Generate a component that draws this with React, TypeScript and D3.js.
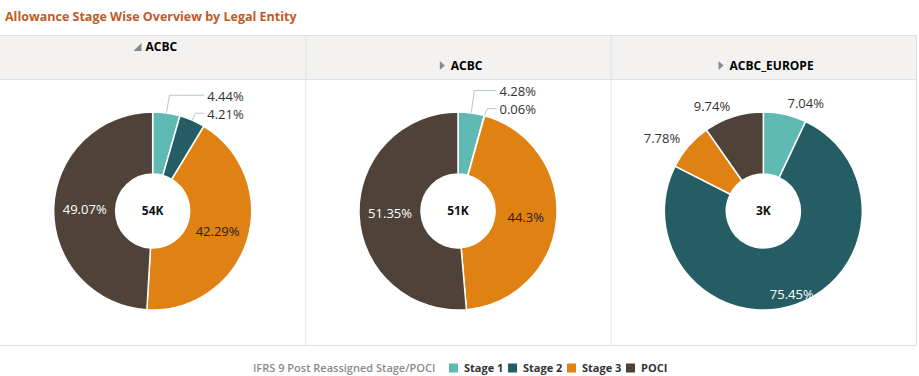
import React from "react";
import * as d3 from "d3";

const title = "Allowance Stage Wise Overview by Legal Entity";
const entities = ["ACBC", "ACBC", "ACBC_EUROPE"];
const expanded = [true, false, false];
const totals = ["54K", "51K", "3K"];
const stages = ["Stage 1", "Stage 2", "Stage 3", "POCI"];
const stage1 = [4.44, 4.28, 7.04];
const stage2 = [4.21, 0.06, 75.45];
const stage3 = [42.29, 44.3, 7.78];
const poci = [49.07, 51.35, 9.74];
const legendTitle = "IFRS 9 Post Reassigned Stage/POCI";

const colors = ["#5fbab4", "#245e64", "#e08114", "#4f4339"];
const insideText = ["#222", "#fff", "#222", "#fff"];

const W = 919;
const H = 376;
const panelLeft = 0;
const panelRight = 916;
const headerTop = 35;
const headerBottom = 79;
const panelBottom = 345;
const outerR = 99;
const innerR = 37;
const FONT = "'Open Sans', 'Noto Sans', sans-serif";

type Lbl = { text: string; x: number; y: number; anchor: string; leader?: string };

function Pie({ idx, cx, cy }: { idx: number; cx: number; cy: number }) {
  const vals = [stage1[idx], stage2[idx], stage3[idx], poci[idx]];
  const pie = d3.pie<number>().sort(null).value((d) => d);
  const arcs = pie(vals);
  const arc = d3.arc<d3.PieArcDatum<number>>().innerRadius(innerR).outerRadius(outerR);
  const total = d3.sum(vals);
  const inside: { text: string; x: number; y: number; color: string }[] = [];
  const outside: { text: string; a: number; x: number; y: number; anchor: string; ex: number; ey: number }[] = [];
  arcs.forEach((a, i) => {
    const mid = (a.startAngle + a.endAngle) / 2;
    const frac = a.value / total;
    const text = `${a.value}%`;
    if (a.value >= 10) {
      const r = frac > 0.6 ? 88 : 68;
      inside.push({ text, x: cx + r * Math.sin(mid), y: cy - r * Math.cos(mid), color: insideText[i] });
    } else {
      const r = 110;
      outside.push({
        text,
        a: mid,
        x: cx + r * Math.sin(mid),
        y: cy - r * Math.cos(mid),
        anchor: Math.sin(mid) >= 0 ? "start" : "end",
        ex: cx + outerR * Math.sin(mid),
        ey: cy - outerR * Math.cos(mid),
      });
    }
  });
  let collide = false;
  for (let i = 0; i < outside.length; i++)
    for (let j = i + 1; j < outside.length; j++)
      if (outside[i].anchor === outside[j].anchor && Math.abs(outside[i].y - outside[j].y) < 15) collide = true;
  const labels: Lbl[] = [];
  if (collide) {
    const tx = d3.max(outside, (o) => o.ex)! + 15;
    const ys: number[] = [];
    const n = outside.length;
    ys[n - 1] = outside[n - 1].ey - 6;
    for (let k = n - 2; k >= 0; k--) ys[k] = ys[k + 1] - 18;
    outside.forEach((o, k) => {
      labels.push({
        text: o.text,
        x: tx,
        y: ys[k],
        anchor: "start",
        leader: `M${o.ex},${o.ey}L${o.ex + 3},${ys[k] - 1}L${tx - 3},${ys[k] - 1}`,
      });
    });
  } else {
    outside.forEach((o) => labels.push({ text: o.text, x: o.x, y: o.y, anchor: o.anchor }));
  }
  return (
    <g>
      {arcs.map((a, i) => (
        <path key={i} d={arc(a)!} transform={`translate(${cx},${cy})`} fill={colors[i]} stroke="#fff" strokeWidth={1.5} />
      ))}
      {inside.map((l, i) => (
        <text key={i} x={l.x} y={l.y} dy="0.35em" textAnchor="middle" fontSize={13} fill={l.color} fontFamily={FONT}>
          {l.text}
        </text>
      ))}
      {labels.map((l, i) => (
        <g key={i}>
          {l.leader && <path d={l.leader} fill="none" stroke="#b5c9cd" strokeWidth={1} />}
          <text x={l.x} y={l.y} dy="0.35em" textAnchor={l.anchor as any} fontSize={13} fill="#333" fontFamily={FONT}>
            {l.text}
          </text>
        </g>
      ))}
      <text x={cx} y={cy} dy="0.35em" textAnchor="middle" fontSize={12} fontWeight="bold" fill="#111" fontFamily={FONT}>
        {totals[idx]}
      </text>
    </g>
  );
}

export default function App() {
  const x = d3.scaleBand<number>().domain(entities.map((_, i) => i)).range([panelLeft, panelRight]);
  const dividers = [x(1)!, x(2)!];
  const bw = x.bandwidth();

  const legendY = 368;
  const items = stages.map((s) => ({ s, w: s === "POCI" ? 22 : 34 }));
  const titleW = 180;
  const sw = 9;
  let totalW = titleW + 16;
  items.forEach((it, i) => {
    totalW += sw + 6 + it.w + (i < items.length - 1 ? 10 : 0);
  });
  const legendStart = (panelLeft + panelRight) / 2 - totalW / 2;
  const pos: { sx: number; tx: number }[] = [];
  let cur = legendStart + titleW + 16;
  items.forEach((it) => {
    pos.push({ sx: cur, tx: cur + sw + 6 });
    cur += sw + 6 + it.w + 10;
  });

  return (
    <svg width={W} height={H} style={{ position: "absolute", left: 0, top: 0 }} fontFamily={FONT}>
      <rect width={W} height={H} fill="#fff" />
      <text x={5} y={21} fontSize={12.5} fontWeight="bold" fill="#c25a26" fontFamily={FONT}>
        {title}
      </text>
      <rect x={panelLeft} y={headerTop} width={panelRight - panelLeft} height={headerBottom - headerTop} fill="#f3f2f1" />
      <line x1={panelLeft} x2={panelRight} y1={headerTop + 0.5} y2={headerTop + 0.5} stroke="#dedede" />
      <line x1={panelLeft} x2={panelRight} y1={headerBottom + 0.5} y2={headerBottom + 0.5} stroke="#dedede" />
      <line x1={panelLeft} x2={panelRight} y1={panelBottom + 0.5} y2={panelBottom + 0.5} stroke="#dedede" />
      <line x1={panelRight + 0.5} x2={panelRight + 0.5} y1={headerTop} y2={panelBottom} stroke="#dedede" />
      {dividers.map((d, i) => (
        <line key={i} x1={d + 0.5} x2={d + 0.5} y1={headerTop} y2={panelBottom} stroke="#e2e2e2" />
      ))}
      {entities.map((e, i) => {
        const cxh = x(i)! + bw / 2;
        const textW = e.length * 7.6;
        const groupW = 12 + textW;
        const gx = cxh - groupW / 2 + 2;
        const ty = expanded[i] ? 51 : 70;
        return (
          <g key={i}>
            {expanded[i] ? (
              <path d={`M${gx + 8},${ty - 8}L${gx + 8},${ty}L${gx},${ty}Z`} fill="#8a8a8a" />
            ) : (
              <path d={`M${gx + 1},${ty - 9}L${gx + 6},${ty - 4.5}L${gx + 1},${ty}Z`} fill="#8a8a8a" />
            )}
            <text x={gx + 12} y={ty} fontSize={12} fontWeight="bold" fill="#000" fontFamily={FONT}>
              {e}
            </text>
          </g>
        );
      })}
      {entities.map((_, i) => (
        <Pie key={i} idx={i} cx={x(i)! + bw / 2} cy={211} />
      ))}
      <text x={legendStart} y={legendY} dy="0.35em" fontSize={11} fontWeight="600" fill="#8a8a8a" fontFamily={FONT}>
        {legendTitle}
      </text>
      {items.map((it, i) => (
        <g key={i}>
          <rect x={pos[i].sx} y={legendY - 4.5} width={sw} height={sw} fill={colors[i]} />
          <text x={pos[i].tx} y={legendY} dy="0.35em" fontSize={11} fontWeight="bold" fill="#333" fontFamily={FONT}>
            {it.s}
          </text>
        </g>
      ))}
    </svg>
  );
}
